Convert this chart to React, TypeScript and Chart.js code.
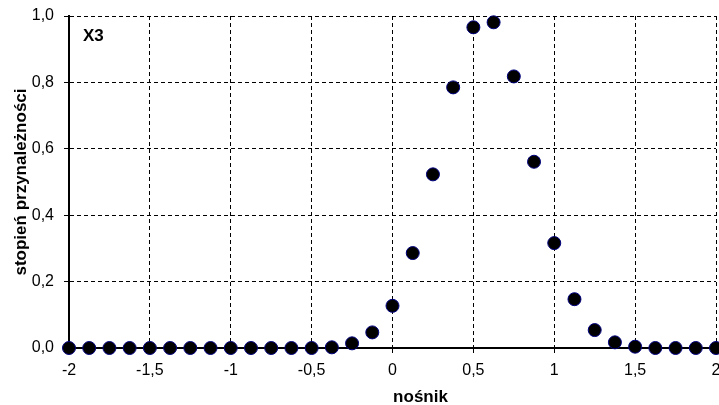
import React, { useEffect, useRef } from "react";
import { Chart, registerables } from "chart.js";

Chart.register(...registerables);

const xValues = [
  -2, -1.875, -1.75, -1.625, -1.5, -1.375, -1.25, -1.125, -1, -0.875, -0.75,
  -0.625, -0.5, -0.375, -0.25, -0.125, 0, 0.125, 0.25, 0.375, 0.5, 0.625,
  0.75, 0.875, 1, 1.125, 1.25, 1.375, 1.5, 1.625, 1.75, 1.875, 2,
];
const yValues = [
  0, 0, 0, 0, 0, 0, 0, 0, 0, 0, 0, 0, 0, 0.002, 0.014, 0.047, 0.127, 0.286,
  0.523, 0.785, 0.966, 0.981, 0.818, 0.561, 0.316, 0.147, 0.054, 0.017, 0.004,
  0, 0, 0, 0,
];
const xTickValues = [-2, -1.5, -1, -0.5, 0, 0.5, 1, 1.5, 2];
const xTickLabels = ["-2", "-1,5", "-1", "-0,5", "0", "0,5", "1", "1,5", "2"];
const yTickValues = [0, 0.2, 0.4, 0.6, 0.8, 1];
const yTickLabels = ["0,0", "0,2", "0,4", "0,6", "0,8", "1,0"];
const seriesLabel = "X3";
const xTitle = "nośnik";
const yTitle = "stopień przynależności";

const FONT = "Arial, 'Liberation Sans', sans-serif";

export default function App() {
  const ref = useRef<HTMLCanvasElement | null>(null);
  useEffect(() => {
    if (!ref.current) return;
    const labelsPlugin = {
      id: "extraLabels",
      afterDraw(chart: any) {
        const { ctx, chartArea } = chart;
        ctx.save();
        ctx.fillStyle = "#000";
        ctx.font = `bold 17px ${FONT}`;
        ctx.textAlign = "left";
        ctx.textBaseline = "alphabetic";
        ctx.fillText(seriesLabel, chartArea.left + 14, chartArea.top + 25);
        ctx.textAlign = "center";
        ctx.fillText(xTitle, (chartArea.left + chartArea.right) / 2 + 28, 402);
        ctx.restore();
      },
    };
    const chart = new Chart(ref.current, {
      type: "scatter",
      data: {
        datasets: [
          {
            label: seriesLabel,
            data: xValues.map((x, i) => ({ x, y: yValues[i] })),
            backgroundColor: "#000000",
            borderColor: "#000080",
            borderWidth: 1,
            pointRadius: 6.5,
            pointHoverRadius: 6.5,
            clip: false,
          },
        ],
      },
      options: {
        responsive: false,
        animation: false,
        events: [],
        layout: { autoPadding: false, padding: { left: 0, right: 3, top: 16, bottom: 0 } },
        plugins: {
          legend: { display: false },
          tooltip: { enabled: false },
          title: { display: false },
        },
        scales: {
          x: {
            type: "linear",
            min: -2,
            max: 2,
            afterBuildTicks: (s: any) => {
              s.ticks = xTickValues.map((v) => ({ value: v }));
            },
            afterFit: (s: any) => {
              s.height = 57;
              s.paddingLeft = 0;
              s.paddingRight = 0;
            },
            ticks: {
              autoSkip: false,
              maxRotation: 0,
              color: "#000",
              font: { family: FONT, size: 16 },
              padding: 8,
              callback: (_v: any, i: number) => xTickLabels[i],
            },
            grid: {
              color: "#000",
              lineWidth: 1,
              tickLength: 5,
              tickColor: "#000",
            },
            border: { display: true, color: "#000", width: 2, dash: [4, 3] },
          },
          y: {
            type: "linear",
            min: 0,
            max: 1,
            afterBuildTicks: (s: any) => {
              s.ticks = yTickValues.map((v) => ({ value: v }));
            },
            afterFit: (s: any) => {
              s.width = 69;
              s.paddingTop = 0;
              s.paddingBottom = 0;
            },
            ticks: {
              color: "#000",
              font: { family: FONT, size: 16 },
              padding: 10,
              callback: (_v: any, i: number) => yTickLabels[i],
            },
            title: {
              display: true,
              text: yTitle,
              color: "#000",
              font: { family: FONT, size: 17, weight: "bold" },
              padding: { top: 11, bottom: 0 },
            },
            grid: {
              color: "#000",
              lineWidth: 1,
              tickLength: 5,
              tickColor: "#000",
            },
            border: { display: true, color: "#000", width: 2, dash: [4, 3] },
          },
        },
      },
      plugins: [labelsPlugin],
    } as any);
    return () => chart.destroy();
  }, []);
  return (
    <div style={{ position: "fixed", left: 0, top: 0, width: 719, height: 405, background: "#fff" }}>
      <canvas ref={ref} width={719} height={405} style={{ width: 719, height: 405, display: "block" }} />
    </div>
  );
}
